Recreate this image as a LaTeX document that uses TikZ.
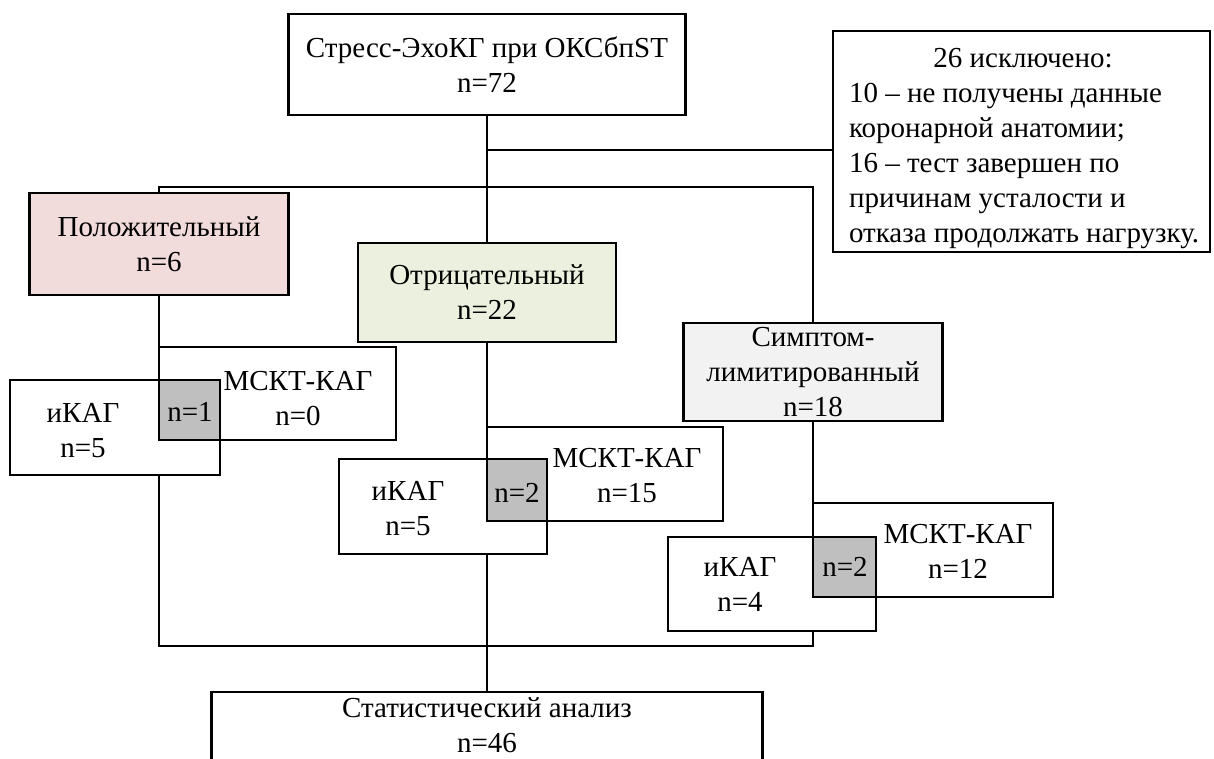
\documentclass[tikz,border=0pt]{standalone}
\usepackage{fontspec}
\setmainfont{Liberation Serif}
\usetikzlibrary{calc}
\definecolor{pospink}{HTML}{F2DCDB}
\definecolor{neggreen}{HTML}{EBF1DE}
\definecolor{symgray}{HTML}{F2F2F2}
\definecolor{overgray}{HTML}{BFBFBF}
\begin{document}
\begin{tikzpicture}[x=1pt,y=-1pt,
  every node/.style={font=\fontsize{29}{35}\selectfont},
  box/.style={draw, line width=2.6pt, inner sep=0pt, outer sep=0pt, align=center, fill=white},
  conn/.style={line width=2.6pt},
  lbl/.style={inner sep=0pt, outer sep=0pt, align=center},
  overlap/.style={fill=overgray}]
\useasboundingbox (0,0) rectangle (1214,758);
\fill[white] (0,0) rectangle (1214,758);

% main boxes
\node[box, minimum width=397pt, minimum height=101pt] (top) at (487,64.5) {Стресс-ЭхоКГ при ОКСбпST\\n=72};
\node[box, minimum width=377pt, minimum height=221pt] (excl) at (1021.5,141.5) {};
\node[lbl] (excltitle) at (1023,58) {26 исключено:};
\node[lbl, align=left, anchor=west] (excltext) at (849,166) {10 – не получены данные\\коронарной анатомии;\\16 – тест завершен по\\причинам усталости и\\отказа продолжать нагрузку.};

\node[box, fill=pospink, minimum width=259pt, minimum height=102pt] (pos) at (159,244) {Положительный\\n=6};
\node[box, fill=neggreen, minimum width=258pt, minimum height=99pt] (neg) at (487,292.5) {Отрицательный\\n=22};
\node[box, fill=symgray, minimum width=259pt, minimum height=98pt] (sym) at (813,372) {Симптом-\\лимитированный\\n=18};

% overlapping pairs
\node[box, minimum width=237pt, minimum height=93pt] (mskt1) at (277.5,393.5) {};
\node[box, minimum width=210pt, minimum height=95pt] (ikag1) at (115,427.5) {};
\fill[overlap] (mskt1.west |- ikag1.north) rectangle (ikag1.east |- mskt1.south);
\draw[line width=2.6pt] (mskt1.north west) rectangle (mskt1.south east);
\draw[line width=2.6pt] (ikag1.north west) rectangle (ikag1.south east);

\node[box, minimum width=236pt, minimum height=94pt] (mskt2) at (605,474) {};
\node[box, minimum width=208pt, minimum height=95pt] (ikag2) at (443,506.5) {};
\fill[overlap] (mskt2.west |- ikag2.north) rectangle (ikag2.east |- mskt2.south);
\draw[line width=2.6pt] (mskt2.north west) rectangle (mskt2.south east);
\draw[line width=2.6pt] (ikag2.north west) rectangle (ikag2.south east);

\node[box, minimum width=240pt, minimum height=94pt] (mskt3) at (933,550) {};
\node[box, minimum width=208pt, minimum height=94pt] (ikag3) at (772,584) {};
\fill[overlap] (mskt3.west |- ikag3.north) rectangle (ikag3.east |- mskt3.south);
\draw[line width=2.6pt] (mskt3.north west) rectangle (mskt3.south east);
\draw[line width=2.6pt] (ikag3.north west) rectangle (ikag3.south east);

% labels
\node[lbl] (l1) at (298,399) {МСКТ-КАГ\\n=0};
\node[lbl] (o1) at (190,412) {n=1};
\node[lbl] (k1) at (83,430.5) {иКАГ\\n=5};
\node[lbl] (l2) at (627,475.5) {МСКТ-КАГ\\n=15};
\node[lbl] (o2) at (517,493) {n=2};
\node[lbl] (k2) at (408,509) {иКАГ\\n=5};
\node[lbl] (l3) at (958,551) {МСКТ-КАГ\\n=12};
\node[lbl] (o3) at (845,567) {n=2};
\node[lbl] (k3) at (740,584) {иКАГ\\n=4};

\node[box, minimum width=551pt, minimum height=84pt] (stat) at (487,734) {};
\node[lbl] (statlbl) at (487,725) {Статистический анализ\\n=46};

% connectors
\coordinate (j1) at (487,150);
\coordinate (j2) at (487,187);
\coordinate (jb) at (487,646);
\draw[conn] (top.south) -- (neg.north);
\draw[conn] (j1) -- (j1 -| excl.west);
\draw[conn] (pos.north) |- (j2) -| (sym.north);
\draw[conn] (pos.south) -- (mskt1.north west);
\draw[conn] (neg.south) -- (mskt2.north west);
\draw[conn] (sym.south) -- (mskt3.north west);
\draw[conn] (mskt1.west |- ikag1.south) |- (jb) -| (mskt3.west |- ikag3.south);
\draw[conn] (mskt2.west |- ikag2.south) -- (stat.north);
\end{tikzpicture}
\end{document}
